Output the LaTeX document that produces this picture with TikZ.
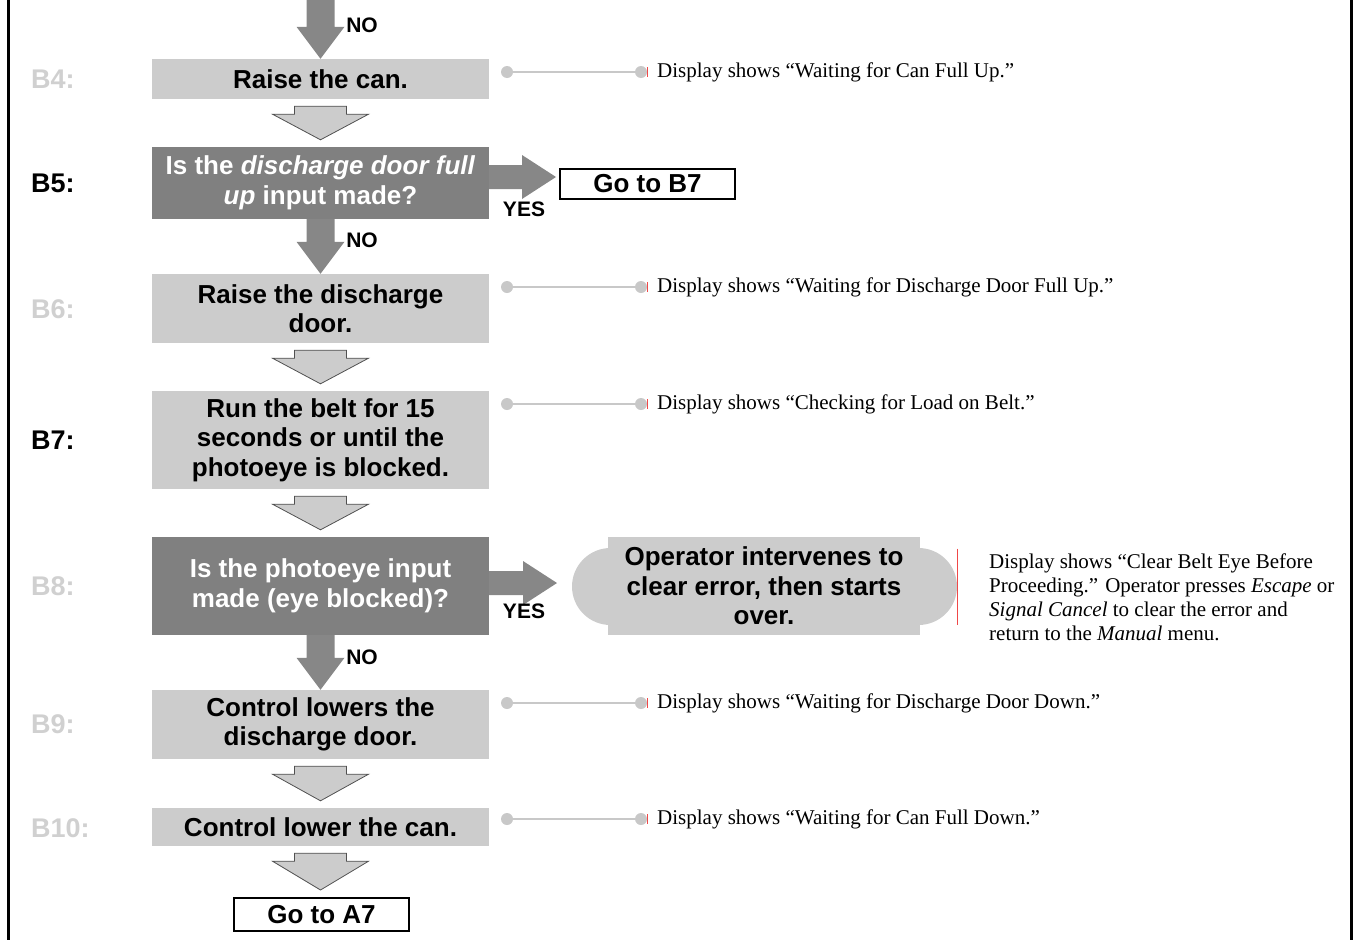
\documentclass[tikz,border=0pt]{standalone}
\usepackage{fontspec}
\setmainfont{Liberation Serif}
\setsansfont{Liberation Sans}
\usetikzlibrary{calc,shapes.misc}
\definecolor{lg}{HTML}{CCCCCC}
\definecolor{dg}{HTML}{808080}
\definecolor{arrg}{HTML}{878787}
\definecolor{lbl}{HTML}{D0D0D0}
\definecolor{conn}{HTML}{C8C8C8}
\definecolor{chevdraw}{HTML}{505050}
\definecolor{tick}{HTML}{F04848}
\newcommand\myboxfont{\sffamily\bfseries\fontsize{26}{29.5}\selectfont}
\newcommand\mylabfont{\sffamily\bfseries\fontsize{27}{30}\selectfont}
\newcommand\myarfont{\sffamily\bfseries\fontsize{21}{24}\selectfont}
\newcommand\mynotefont{\rmfamily\fontsize{21}{24}\selectfont}
\newcommand\fatdown[2]{\fill[fat] let \p1=(#1), \p2=(#2) in
  (\x2-14pt,\y1) -- (\x2+14pt,\y1) -- (\x2+14pt,\y2+32pt) -- (\x2+24pt,\y2+32pt)
  -- (\x2,\y2) -- (\x2-24pt,\y2+32pt) -- (\x2-14pt,\y2+32pt) -- cycle;}
\newcommand\fatright[2]{\fill[fat] let \p1=(#1), \p2=(#2) in
  (\x1,\y2+12pt) -- (\x2-34pt,\y2+12pt) -- (\x2-34pt,\y2+22pt) -- (\x2,\y2)
  -- (\x2-34pt,\y2-22pt) -- (\x2-34pt,\y2-12pt) -- (\x1,\y2-12pt) -- cycle;}
\newcommand\chevdown[2]{\draw[chev] let \p1=(#1), \p2=(#2) in
  (\x1-26pt,\y1-7pt) -- (\x1+26pt,\y1-7pt) -- (\x1+26pt,\y1-15pt) -- (\x1+48pt,\y1-15pt)
  -- (\x1,\y2+7pt) -- (\x1-48pt,\y1-15pt) -- (\x1-26pt,\y1-15pt) -- cycle;}
\begin{document}
\begin{tikzpicture}[x=1pt,y=-1pt,
  box/.style={rectangle, fill=lg, minimum width=337pt, inner sep=0pt, align=center, font=\myboxfont},
  dec/.style={box, fill=dg, text=white},
  gotobox/.style={rectangle, draw=black, line width=2pt, fill=white, minimum width=175pt, inner sep=0pt, font=\myboxfont},
  lab/.style={anchor=west, font=\mylabfont, text=lbl, inner sep=0pt},
  labk/.style={lab, text=black},
  arlab/.style={font=\myarfont, inner sep=0pt},
  chev/.style={fill=lg, draw=chevdraw, line width=0.8pt, line join=miter},
  fat/.style={fill=arrg},
  dot/.style={circle, fill=conn, minimum size=12pt, inner sep=0pt},
  cline/.style={draw=conn, line width=2.5pt},
  ticks/.style={draw=tick, line width=1pt},
  note/.style={anchor=west, font=\mynotefont, align=left, inner sep=0pt}]
\useasboundingbox (0,0) rectangle (1359,940);
% borders
\draw[line width=3.5pt] (8.5,0) -- (8.5,940);
\draw[line width=3.5pt] (1351.5,0) -- (1351.5,940);

% main boxes
\node[box, minimum height=40pt] (B4) at (320.5,79) {Raise the can.};
\node[dec, minimum height=72pt] (B5) at (320.5,183) {Is the \textit{discharge door full}\\\textit{up} input made?};
\node[box, minimum height=69pt] (B6) at (320.5,308.5) {Raise the discharge\\door.};
\node[box, minimum height=98pt] (B7) at (320.5,440) {Run the belt for 15\\seconds or until the\\photoeye is blocked.};
\node[dec, minimum height=98pt] (B8) at (320.5,586) {Is the photoeye input\\made (eye blocked)?};
\node[box, minimum height=69pt] (B9) at (320.5,724.5) {Control lowers the\\discharge door.};
\node[box, minimum height=38pt] (B10) at (320.5,827) {Control lower the can.};
\node[gotobox, minimum height=30pt] (G7) at (647.5,184) {Go to B7};
\node[gotobox, minimum height=33pt] (GA) at (321.5,914.5) {Go to A7};

% operator box
\node[rounded rectangle, fill=lg, minimum width=385pt, minimum height=77pt, inner sep=0pt] (oprnd) at (764.5,586.5) {};
\node[box, minimum width=312pt, minimum height=98pt] (op) at (764,586) {Operator intervenes to\\clear error, then starts\\over.};
\draw[ticks] ($(oprnd.east)+(0,-38)$) -- ($(oprnd.east)+(0,38)$);

% step labels
\node[lab] (L4) at (31,79) {B4:};
\node[labk] (L5) at (31,183) {B5:};
\node[lab] (L6) at (31,309) {B6:};
\node[labk] (L7) at (31,440) {B7:};
\node[lab] (L8) at (31,586) {B8:};
\node[lab] (L9) at (31,724) {B9:};
\node[lab] (L10) at (31,828) {B10:};

% fat arrows
\coordinate (top) at (319.5,0);
\fatdown{top}{B4.north}
\fatdown{B5.south}{B6.north}
\fatdown{B8.south}{B9.north}
\coordinate (y5) at (556,177);
\fatright{B5.east}{y5}
\coordinate (y8) at (557,583);
\fatright{B8.east}{y8}
\node[arlab] (no1) at (362,25) {NO};
\node[arlab] (no2) at (362,240) {NO};
\node[arlab] (no3) at (362,657) {NO};
\node[arlab] (yes1) at (524,209) {YES};
\node[arlab] (yes2) at (524,611) {YES};

% hollow chevrons
\chevdown{B4.south}{B5.north}
\chevdown{B6.south}{B7.north}
\chevdown{B7.south}{B8.north}
\chevdown{B9.south}{B10.north}
\chevdown{B10.south}{GA.north}

% connectors and notes
\foreach \n/\yy/\txt in {4/72/{Display shows “Waiting for Can Full Up.”},
  6/287/{Display shows “Waiting for Discharge Door Full Up.”},
  7/404/{Display shows “Checking for Load on Belt.”},
  9/703/{Display shows “Waiting for Discharge Door Down.”},
  10/819/{Display shows “Waiting for Can Full Down.”}}{
  \node[dot] (ca\n) at (507,\yy) {};
  \node[dot] (cb\n) at (641,\yy) {};
  \draw[cline] (ca\n) -- (cb\n);
  \draw[ticks] ($(cb\n.east)+(0,-5)$) -- ($(cb\n.east)+(0,5)$);
  \node[note] (t\n) at (657,\yy) {\txt};
}
\node[note] (t8) at (989,597) {Display shows “Clear Belt Eye Before\\Proceeding.” Operator presses \textit{Escape} or\\\textit{Signal Cancel} to clear the error and\\return to the \textit{Manual} menu.};
\end{tikzpicture}
\end{document}
